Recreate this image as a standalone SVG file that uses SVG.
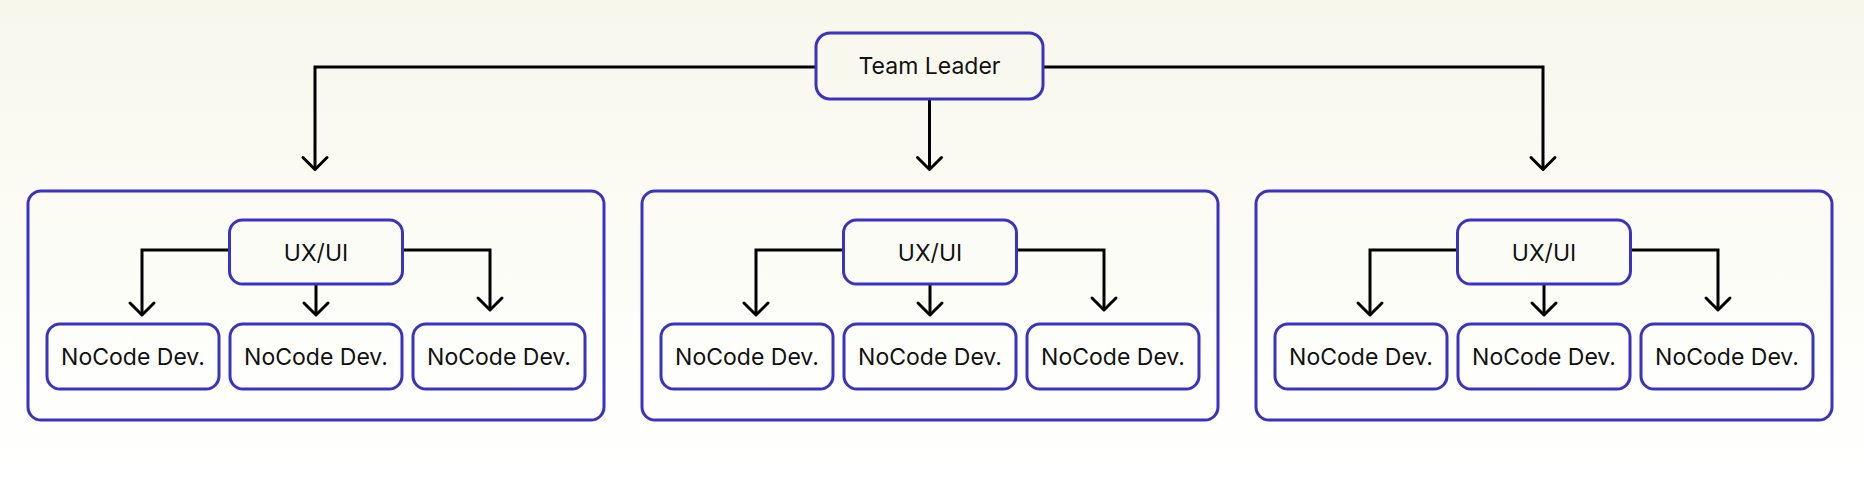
<svg xmlns="http://www.w3.org/2000/svg" width="1864" height="483" viewBox="0 0 1864 483">
  <defs>
    <linearGradient id="bg" x1="0" y1="0" x2="0" y2="1">
      <stop offset="0" stop-color="#f8f7ec"/>
      <stop offset="0.5" stop-color="#fcfcf6"/>
      <stop offset="1" stop-color="#ffffff"/>
    </linearGradient>
    <marker id="arr" markerUnits="userSpaceOnUse" viewBox="-15 -15 18 30" markerWidth="18" markerHeight="30" refX="0" refY="0" orient="auto">
      <path d="M-12,-12 L0,0 L-12,12" fill="none" stroke="#000" stroke-width="3" stroke-linecap="round" stroke-linejoin="round"/>
    </marker>
    <style>
      .box { fill: none; stroke: #3b32c2; stroke-width: 3; }
      .lbl { font-family: Inter, "Noto Sans", "Liberation Sans", sans-serif; font-size: 23px; fill: #111111; text-anchor: middle; }
      .conn { fill: none; stroke: #000; stroke-width: 3; marker-end: url(#arr); }
    </style>
  </defs>
  <rect x="0" y="0" width="1864" height="483" fill="url(#bg)"/>

  <g id="connectors">
    <path class="conn" d="M816,67 H315 V169.5"/>
    <path class="conn" d="M929.5,99 V169.5"/>
    <path class="conn" d="M1043,67 H1543 V169.5"/>

    <path class="conn" d="M229.5,250 H142 V315"/>
    <path class="conn" d="M316,284 V315"/>
    <path class="conn" d="M402.5,250 H490 V310"/>

    <path class="conn" d="M843.5,250 H756 V315"/>
    <path class="conn" d="M930,284 V315"/>
    <path class="conn" d="M1016.5,250 H1104 V310"/>

    <path class="conn" d="M1457.5,250 H1370 V315"/>
    <path class="conn" d="M1544,284 V315"/>
    <path class="conn" d="M1630.5,250 H1718 V310"/>
  </g>

  <g id="team-leader">
    <rect class="box" x="816" y="33" width="227" height="66" rx="14"/>
    <text class="lbl" x="929.5" y="74">Team Leader</text>
  </g>

  <g id="team-1">
    <rect class="box" x="28" y="191" width="576" height="229" rx="13"/>
  </g>
  <g id="uxui-1">
    <rect class="box" x="229.5" y="220" width="173" height="64" rx="13"/>
    <text class="lbl" x="316" y="260.5">UX/UI</text>
  </g>
  <g id="dev-1-1">
    <rect class="box" x="47" y="324" width="172" height="65" rx="13"/>
    <text class="lbl" x="133" y="364.5">NoCode Dev.</text>
  </g>
  <g id="dev-1-2">
    <rect class="box" x="230" y="324" width="172" height="65" rx="13"/>
    <text class="lbl" x="316" y="364.5">NoCode Dev.</text>
  </g>
  <g id="dev-1-3">
    <rect class="box" x="413" y="324" width="172" height="65" rx="13"/>
    <text class="lbl" x="499" y="364.5">NoCode Dev.</text>
  </g>

  <g id="team-2">
    <rect class="box" x="642" y="191" width="576" height="229" rx="13"/>
  </g>
  <g id="uxui-2">
    <rect class="box" x="843.5" y="220" width="173" height="64" rx="13"/>
    <text class="lbl" x="930" y="260.5">UX/UI</text>
  </g>
  <g id="dev-2-1">
    <rect class="box" x="661" y="324" width="172" height="65" rx="13"/>
    <text class="lbl" x="747" y="364.5">NoCode Dev.</text>
  </g>
  <g id="dev-2-2">
    <rect class="box" x="844" y="324" width="172" height="65" rx="13"/>
    <text class="lbl" x="930" y="364.5">NoCode Dev.</text>
  </g>
  <g id="dev-2-3">
    <rect class="box" x="1027" y="324" width="172" height="65" rx="13"/>
    <text class="lbl" x="1113" y="364.5">NoCode Dev.</text>
  </g>

  <g id="team-3">
    <rect class="box" x="1256" y="191" width="576" height="229" rx="13"/>
  </g>
  <g id="uxui-3">
    <rect class="box" x="1457.5" y="220" width="173" height="64" rx="13"/>
    <text class="lbl" x="1544" y="260.5">UX/UI</text>
  </g>
  <g id="dev-3-1">
    <rect class="box" x="1275" y="324" width="172" height="65" rx="13"/>
    <text class="lbl" x="1361" y="364.5">NoCode Dev.</text>
  </g>
  <g id="dev-3-2">
    <rect class="box" x="1458" y="324" width="172" height="65" rx="13"/>
    <text class="lbl" x="1544" y="364.5">NoCode Dev.</text>
  </g>
  <g id="dev-3-3">
    <rect class="box" x="1641" y="324" width="172" height="65" rx="13"/>
    <text class="lbl" x="1727" y="364.5">NoCode Dev.</text>
  </g>
</svg>
